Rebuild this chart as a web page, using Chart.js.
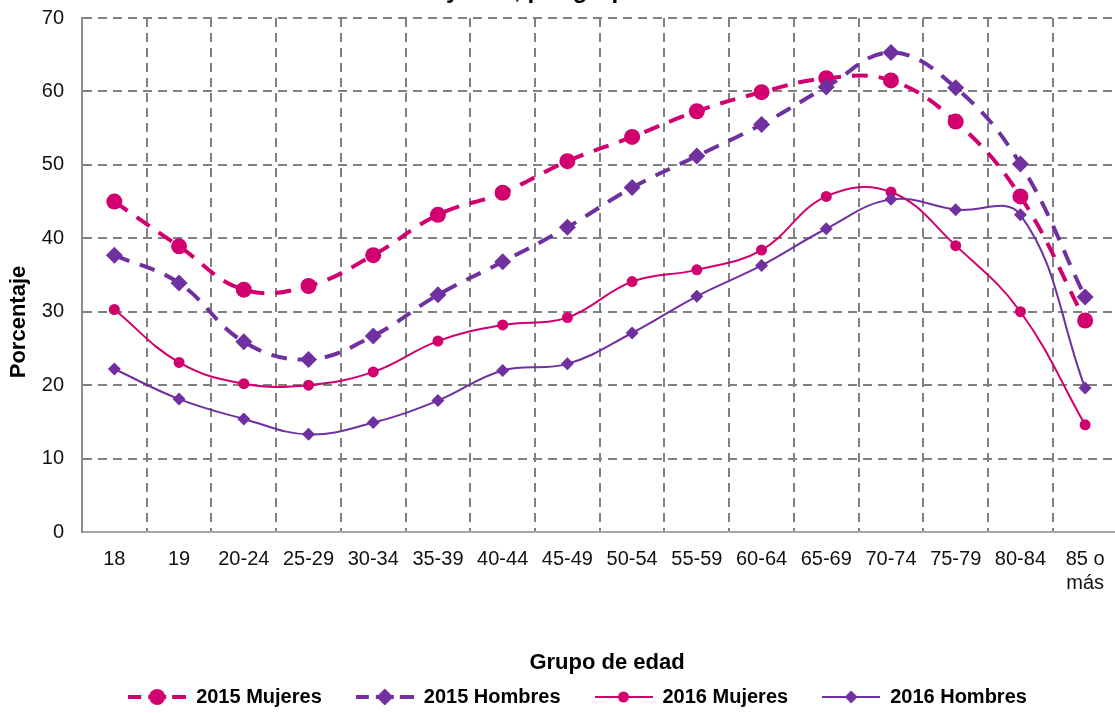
<!DOCTYPE html>
<html><head><meta charset="utf-8">
<script src="https://cdn.jsdelivr.net/npm/chart.js@4"></script>
<style>html,body{margin:0;padding:0;overflow:hidden;background:#fff;width:1115px;height:713px}canvas{display:block}</style>
</head><body>
<canvas id="c" width="1126" height="717"></canvas>
<script>
const TITLE = 'Población de 18 años y más, por grupo de edad';
const X_TITLE = 'Grupo de edad';
const Y_TITLE = 'Porcentaje';
const categories = ['18','19','20-24','25-29','30-34','35-39','40-44','45-49','50-54','55-59','60-64','65-69','70-74','75-79','80-84',['85 o','más']];
const yTickValues = [0,10,20,30,40,50,60,70];
const seriesNames = ['2015 Mujeres','2015 Hombres','2016 Mujeres','2016 Hombres'];
const mujeres2015 = [45.0,38.9,33.0,33.5,37.7,43.2,46.2,50.5,53.8,57.3,59.9,61.8,61.5,55.9,45.7,28.8];
const hombres2015 = [37.7,33.9,25.9,23.5,26.7,32.3,36.8,41.5,46.9,51.2,55.5,60.6,65.3,60.5,50.1,32.0];
const mujeres2016 = [30.3,23.1,20.2,20.0,21.8,26.0,28.2,29.2,34.1,35.7,38.4,45.7,46.3,39.0,30.0,14.6];
const hombres2016 = [22.2,18.1,15.4,13.3,14.9,17.9,22.0,22.9,27.1,32.1,36.3,41.3,45.3,43.9,43.2,19.6];

const MAGENTA = '#D1006E';
const PURPLE = '#7030A0';
const FONT = '"Liberation Sans", Arial, sans-serif';

function legendImg(color, dashed, lw, style, r){
  const c = document.createElement('canvas'); c.width = 58; c.height = 22;
  const g = c.getContext('2d');
  g.strokeStyle = color; g.lineWidth = lw; g.lineCap = 'butt';
  g.beginPath();
  if (dashed) { g.moveTo(0,11); g.lineTo(13,11); g.moveTo(20,11); g.lineTo(38,11); g.moveTo(44,11); g.lineTo(58,11); }
  else { g.moveTo(0,11); g.lineTo(58,11); }
  g.stroke();
  g.fillStyle = color;
  g.beginPath();
  if (style === 'circle') g.arc(29,11,r,0,Math.PI*2);
  else { g.moveTo(29,11-r); g.lineTo(29+r,11); g.lineTo(29,11+r); g.lineTo(29-r,11); g.closePath(); }
  g.fill();
  return c;
}
const legendImgs = [
  legendImg(MAGENTA, true, 4, 'circle', 8),
  legendImg(PURPLE, true, 4, 'diamond', 8.5),
  legendImg(MAGENTA, false, 2, 'circle', 5.5),
  legendImg(PURPLE, false, 2, 'diamond', 6.5)
];

const textPlugin = {
  id: 'texts',
  afterDraw(chart){
    const ctx = chart.ctx; ctx.save();
    ctx.fillStyle = '#000';
    ctx.font = 'bold 22px ' + FONT;
    ctx.textAlign = 'center'; ctx.textBaseline = 'middle';
    ctx.fillText(X_TITLE, 607, 663);
    ctx.save(); ctx.translate(19, 322); ctx.rotate(-Math.PI/2); ctx.fillText(Y_TITLE, 0, 0); ctx.restore();
    ctx.font = 'bold 24px ' + FONT;
    ctx.textAlign = 'left'; ctx.textBaseline = 'alphabetic';
    const pre = ctx.measureText('Población de 18 años ').width;
    ctx.fillText(TITLE, 446 - pre, -2);
    ctx.restore();
  }
};

new Chart(document.getElementById('c'), {
  type: 'line',
  data: {
    labels: categories,
    datasets: [
      {label: seriesNames[0], data: mujeres2015, borderColor: MAGENTA, backgroundColor: MAGENTA, borderWidth: 4, borderDash: [16,11], pointStyle: 'circle', pointRadius: 8, pointBorderWidth: 0, pointBackgroundColor: MAGENTA, tension: 0.4, order: 4},
      {label: seriesNames[1], data: hombres2015, borderColor: PURPLE, backgroundColor: PURPLE, borderWidth: 4, borderDash: [16,11], pointStyle: 'rectRot', pointRadius: 8.5, pointBorderWidth: 0, pointBackgroundColor: PURPLE, tension: 0.4, order: 3},
      {label: seriesNames[2], data: mujeres2016, borderColor: MAGENTA, backgroundColor: MAGENTA, borderWidth: 2, pointStyle: 'circle', pointRadius: 5.5, pointBorderWidth: 0, pointBackgroundColor: MAGENTA, tension: 0.4, order: 2},
      {label: seriesNames[3], data: hombres2016, borderColor: PURPLE, backgroundColor: PURPLE, borderWidth: 2, pointStyle: 'rectRot', pointRadius: 6.5, pointBorderWidth: 0, pointBackgroundColor: PURPLE, tension: 0.4, order: 1}
    ]
  },
  options: {
    responsive: false,
    animation: false,
    devicePixelRatio: 1,
    layout: {padding: {left: 31, right: 2, top: 18, bottom: 0}},
    scales: {
      x: {
        offset: true,
        grid: {offset: true, color: '#808080', lineWidth: 2, drawTicks: false},
        border: {display: true, color: '#A6A6A6', width: 2, dash: [9,6]},
        ticks: {color: '#111', font: {family: FONT, size: 20}, padding: 15, maxRotation: 0, autoSkip: false},
        afterFit(s){ s.height = 121; }
      },
      y: {
        min: 0, max: 70,
        afterBuildTicks(s){ s.ticks = yTickValues.map(v => ({value: v})); },
        grid: {color: ctx => ctx.tick && ctx.tick.value === 0 ? 'rgba(0,0,0,0)' : '#808080', lineWidth: 2, drawTicks: false},
        border: {display: true, color: '#8C8C8C', width: 2, dash: [9,6]},
        ticks: {color: '#111', font: {family: FONT, size: 20}, padding: 18},
        afterFit(s){ s.width = 51; s.paddingTop = 0; s.paddingBottom = 0; }
      }
    },
    plugins: {
      title: {display: false},
      tooltip: {enabled: false},
      legend: {
        position: 'bottom',
        labels: {
          usePointStyle: true,
          pointStyleWidth: 58,
          padding: 34,
          color: '#000',
          font: {family: FONT, size: 20, weight: 'bold'},
          generateLabels(chart){
            return chart.data.datasets.map((ds, i) => ({
              text: ds.label, datasetIndex: i, pointStyle: legendImgs[i],
              fillStyle: ds.borderColor, strokeStyle: ds.borderColor, lineWidth: 0,
              hidden: false, fontColor: '#000'
            }));
          }
        }
      }
    }
  },
  plugins: [textPlugin]
});
</script>
</body></html>
